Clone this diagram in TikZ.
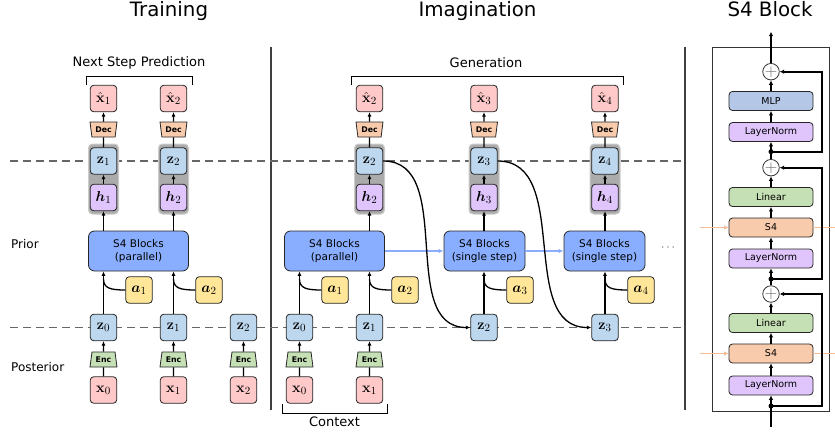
\documentclass[tikz,border=0pt]{standalone}
\usepackage[no-math]{fontspec}
\setmainfont{DejaVu Sans}
\usepackage{amsmath,bm}
\usetikzlibrary{shapes.geometric,arrows.meta}
\definecolor{xpink}{HTML}{FFC9C9}
\definecolor{zblue}{HTML}{BDD7EE}
\definecolor{hpurp}{HTML}{DFC5FB}
\definecolor{ayel}{HTML}{FFE699}
\definecolor{sblue}{HTML}{8AAEFF}
\definecolor{decor}{HTML}{F8CBAD}
\definecolor{encgr}{HTML}{C5E0B4}
\definecolor{mlpc}{HTML}{B4C7E7}
\definecolor{orngl}{HTML}{F5BC96}
\definecolor{bgray}{HTML}{ABABAB}
\tikzset{
  box/.style={draw=black!85, rounded corners=3.5pt, minimum width=26.5pt, minimum height=26.5pt, inner sep=0pt, line width=0.8pt, font=\fontsize{15.5}{17}\selectfont},
  xb/.style={box, fill=xpink},
  zb/.style={box, fill=zblue},
  hb/.style={box, fill=hpurp},
  ab/.style={box, fill=ayel},
  s4b/.style={draw=black!85, rounded corners=6pt, fill=sblue, minimum height=40pt, line width=0.8pt, align=center, inner sep=0pt, font=\fontsize{10.5}{12.5}\selectfont},
  decbox/.style={trapezium, trapezium stretches=true, shape border rotate=180, trapezium left angle=77, trapezium right angle=77, draw=black!85, line width=0.8pt, fill=decor, minimum width=27pt, minimum height=15pt, inner sep=0pt, font=\fontsize{7.8}{8}\selectfont\bfseries},
  encbox/.style={decbox, shape border rotate=0, fill=encgr},
  grayb/.style={fill=bgray, draw=black!20, rounded corners=4pt, line width=1pt, minimum width=30pt, minimum height=70pt, inner sep=0pt},
  conn/.style={line width=1.3pt, -{Latex[length=4.5pt,width=4pt]}},
  plainln/.style={line width=1.3pt},
  dashln/.style={black!60, line width=1.3pt, dash pattern=on 8pt off 5pt},
  sepln/.style={black!75, line width=1.2pt},
  bluearr/.style={sblue, line width=1.3pt, -{Latex[length=5pt,width=4.5pt]}},
  lbl/.style={font=\fontsize{13}{15}\selectfont, inner sep=0pt},
  ttl/.style={font=\fontsize{19.8}{22}\selectfont, inner sep=0pt, anchor=base},
  sb/.style={draw=black!85, rounded corners=3.5pt, minimum width=84pt, minimum height=19pt, inner sep=0pt, line width=0.8pt, font=\fontsize{9.5}{11}\selectfont},
  plusn/.style={circle, draw=black!80, fill=white, line width=0.8pt, minimum size=15pt, inner sep=0pt, text=black!60, font=\fontsize{17}{17}\selectfont},
  jdot/.style={circle, fill=black, inner sep=0pt, minimum size=5pt},
  bconn/.style={line width=1.8pt, -{Latex[length=4.5pt,width=4.5pt]}},
  borng/.style={orngl, line width=1.6pt},
}
\begin{document}
\begin{tikzpicture}[x=1pt,y=-1pt]
\useasboundingbox (0,0) rectangle (835,434);

% titles
\node[ttl] (ttrain) at (169,16) {Training};
\node[ttl] (timag) at (477.5,16) {Imagination};
\node[ttl] (ts4blk) at (770,16) {S4 Block};

% separators and dashed lines
\draw[sepln] (271,47) -- (271,410);
\draw[sepln] (685,47) -- (685,410);
\draw[dashln] (10,161) -- (685,161);
\draw[dashln] (10,327.7) -- (685,327.7);

% row labels
\node[lbl, anchor=west, font=\fontsize{12}{14}\selectfont] (prior) at (11,244) {Prior};
\node[lbl, anchor=west, font=\fontsize{12}{14}\selectfont] (post) at (11,367.5) {Posterior};

% brackets
\node[lbl] (nsp) at (139,63) {Next Step Prediction};
\draw[line width=0.9pt] (86,85) -- (86,76) -- (192,76) -- (192,85);
\node[lbl] (gen) at (486,63) {Generation};
\draw[line width=0.9pt] (351,85) -- (351,76) -- (623,76) -- (623,85);
\node[lbl] (ctx) at (334.5,422) {Context};
\draw[line width=0.9pt] (282,404) -- (282,413) -- (387,413) -- (387,404);

% gray backgrounds
\node[grayb] (g1) at (103.5,179) {};
\node[grayb] (g2) at (173.5,179) {};
\node[grayb] (g3) at (369.5,179) {};
\node[grayb] (g4) at (484,179) {};
\node[grayb] (g5) at (605,179) {};

% ---------- Training ----------
\node[xb] (tx1h) at (103.5,98.5) {$\hat{\mathbf{x}}_1$};
\node[xb] (tx2h) at (173.5,98.5) {$\hat{\mathbf{x}}_2$};
\node[decbox] (tdec1) at (103.5,129.5) {Dec};
\node[decbox] (tdec2) at (173.5,129.5) {Dec};
\node[zb] (tz1) at (103.5,161) {$\mathbf{z}_1$};
\node[zb] (tz2) at (173.5,161) {$\mathbf{z}_2$};
\node[hb] (th1) at (103.5,197.5) {$\bm{h}_1$};
\node[hb] (th2) at (173.5,197.5) {$\bm{h}_2$};
\node[s4b, minimum width=100pt] (ts4) at (138.5,251) {S4 Blocks\\(parallel)};
\node[ab] (ta1) at (139,290) {$\bm{a}_1$};
\node[ab] (ta2) at (209,290) {$\bm{a}_2$};
\node[zb] (tz0b) at (103.5,327.5) {$\mathbf{z}_0$};
\node[zb] (tz1b) at (173.5,327.5) {$\mathbf{z}_1$};
\node[zb] (tz2b) at (243.5,327.5) {$\mathbf{z}_2$};
\node[encbox] (tenc0) at (103.5,359.5) {Enc};
\node[encbox] (tenc1) at (173.5,359.5) {Enc};
\node[encbox] (tenc2) at (243.5,359.5) {Enc};
\node[xb] (tx0) at (103.5,390) {$\mathbf{x}_0$};
\node[xb] (tx1) at (173.5,390) {$\mathbf{x}_1$};
\node[xb] (tx2) at (243.5,390) {$\mathbf{x}_2$};

\foreach \n in {1,2}{
  \draw[plainln] (tz\n.north) -- (tdec\n.south);
  \draw[conn] (tdec\n.north) -- (tx\n h.south);
  \draw[conn] (th\n.north) -- (tz\n.south);
  \draw[conn] (ts4.north -| th\n) -- (th\n.south);
}
\draw[conn] (tz0b.north) -- (tz0b |- ts4.south);
\draw[conn] (tz1b.north) -- (tz1b |- ts4.south);
\coordinate (tj1) at (103.5,279);
\coordinate (tj2) at (173.5,279);
\draw[plainln] (ta1.west) .. controls (110,290) and (103.5,288) .. (tj1);
\draw[plainln] (ta2.west) .. controls (180,290) and (173.5,288) .. (tj2);
\foreach \n in {0,1,2}{
  \draw[plainln] (tx\n.north) -- (tenc\n.south);
  \draw[conn] (tenc\n.north) -- (tz\n b.south);
}

% ---------- Imagination ----------
\node[xb] (ix2h) at (369.5,98.5) {$\hat{\mathbf{x}}_2$};
\node[xb] (ix3h) at (484,98.5) {$\hat{\mathbf{x}}_3$};
\node[xb] (ix4h) at (605,98.5) {$\hat{\mathbf{x}}_4$};
\node[decbox] (idec2) at (369.5,129.5) {Dec};
\node[decbox] (idec3) at (484,129.5) {Dec};
\node[decbox] (idec4) at (605,129.5) {Dec};
\node[zb] (iz2) at (369.5,161) {$\mathbf{z}_2$};
\node[zb] (iz3) at (484,161) {$\mathbf{z}_3$};
\node[zb] (iz4) at (605,161) {$\mathbf{z}_4$};
\node[hb] (ih2) at (369.5,197.5) {$\bm{h}_2$};
\node[hb] (ih3) at (484,197.5) {$\bm{h}_3$};
\node[hb] (ih4) at (605,197.5) {$\bm{h}_4$};
\node[s4b, minimum width=100pt] (ip) at (334.5,251) {S4 Blocks\\(parallel)};
\node[s4b, minimum width=81pt] (is1) at (484.5,251) {S4 Blocks\\(single step)};
\node[s4b, minimum width=81pt] (is2) at (604.5,251) {S4 Blocks\\(single step)};
\node[font=\fontsize{12}{14}\selectfont, text=black!70] (idots) at (669,248) {$\cdots$};
\node[ab] (ia1) at (335,290) {$\bm{a}_1$};
\node[ab] (ia2) at (405,290) {$\bm{a}_2$};
\node[ab] (ia3) at (520,290) {$\bm{a}_3$};
\node[ab] (ia4) at (641,290) {$\bm{a}_4$};
\node[zb] (iz0b) at (299.5,327.5) {$\mathbf{z}_0$};
\node[zb] (iz1b) at (369.5,327.5) {$\mathbf{z}_1$};
\node[zb] (iz2b) at (484,327.5) {$\mathbf{z}_2$};
\node[zb] (iz3b) at (605,327.5) {$\mathbf{z}_3$};
\node[encbox] (ienc0) at (299.5,359.5) {Enc};
\node[encbox] (ienc1) at (369.5,359.5) {Enc};
\node[xb] (ix0) at (299.5,390) {$\mathbf{x}_0$};
\node[xb] (ix1) at (369.5,390) {$\mathbf{x}_1$};

\foreach \n in {2,3,4}{
  \draw[plainln] (iz\n.north) -- (idec\n.south);
  \draw[conn] (idec\n.north) -- (ix\n h.south);
  \draw[conn] (ih\n.north) -- (iz\n.south);
}
\draw[conn] (ip.north -| ih2) -- (ih2.south);
\draw[conn] (is1.north -| ih3) -- (ih3.south);
\draw[conn] (is2.north -| ih4) -- (ih4.south);
\draw[conn] (iz0b.north) -- (iz0b |- ip.south);
\draw[conn] (iz1b.north) -- (iz1b |- ip.south);
\draw[conn] (iz2b.north) -- (iz2b |- is1.south);
\draw[conn] (iz3b.north) -- (iz3b |- is2.south);
\coordinate (ij1) at (299.5,279);
\coordinate (ij2) at (369.5,279);
\coordinate (ij3) at (484,279);
\coordinate (ij4) at (605,279);
\draw[plainln] (ia1.west) .. controls (306,290) and (299.5,288) .. (ij1);
\draw[plainln] (ia2.west) .. controls (376,290) and (369.5,288) .. (ij2);
\draw[plainln] (ia3.west) .. controls (490.5,290) and (484,288) .. (ij3);
\draw[plainln] (ia4.west) .. controls (611.5,290) and (605,288) .. (ij4);
\foreach \n in {0,1}{
  \draw[plainln] (ix\n.north) -- (ienc\n.south);
  \draw[conn] (ienc\n.north) -- (iz\n b.south);
}
\draw[bluearr] (ip.east) -- (is1.west);
\draw[bluearr] (is1.east) -- (is2.west);
\draw[conn] (iz2.east) to[out=0,in=180] (iz2b.west);
\draw[conn] (iz3.east) to[out=0,in=180] (iz3b.west);

% ---------- S4 Block ----------
\node[draw=black!80, line width=0.9pt, minimum width=117pt, minimum height=364pt, inner sep=0pt] (frame) at (770.5,229) {};
\coordinate (oa1) at (700,227.5);
\coordinate (oa2) at (835,227.5);
\coordinate (ob1) at (700,353.5);
\coordinate (ob2) at (835,353.5);
\node[sb, fill=mlpc] (mlp) at (771,101) {MLP};
\node[sb, fill=hpurp] (ln1) at (771,132) {LayerNorm};
\node[sb, fill=encgr] (lin1) at (771,197) {Linear};
\node[sb, fill=decor] (s4a) at (771,227.5) {S4};
\node[sb, fill=hpurp] (ln2) at (771,258.5) {LayerNorm};
\node[sb, fill=encgr] (lin2) at (771,323) {Linear};
\node[sb, fill=decor] (s4b) at (771,353.5) {S4};
\node[sb, fill=hpurp] (ln3) at (771,385.5) {LayerNorm};
\draw[borng, -{Latex[length=4.5pt,width=4.5pt]}] (oa1) -- (s4a.west);
\draw[borng] (s4a.east) -- (oa2);
\draw[borng, -{Latex[length=4.5pt,width=4.5pt]}] (ob1) -- (s4b.west);
\draw[borng] (s4b.east) -- (ob2);
\node[plusn] (p1) at (771,71.7) {$+$};
\node[plusn] (p2) at (771,167.7) {$+$};
\node[plusn] (p3) at (771,294) {$+$};
\node[jdot] (d1) at (771,151.7) {};
\node[jdot] (d2) at (771,279) {};
\node[jdot] (d3) at (771,406) {};
\coordinate (btop) at (771,31.7);
\coordinate (bbot) at (771,427);
\draw[bconn] (bbot) -- (ln3.south);
\draw[bconn] (ln3.north) -- (s4b.south);
\draw[bconn] (s4b.north) -- (lin2.south);
\draw[bconn] (lin2.north) -- (p3.south);
\draw[bconn] (p3.north) -- (ln2.south);
\draw[bconn] (ln2.north) -- (s4a.south);
\draw[bconn] (s4a.north) -- (lin1.south);
\draw[bconn] (lin1.north) -- (p2.south);
\draw[bconn] (p2.north) -- (ln1.south);
\draw[bconn] (ln1.north) -- (mlp.south);
\draw[bconn] (mlp.north) -- (p1.south);
\draw[bconn] (p1.north) -- (btop);
\draw[bconn] (d3.center) -- ++(50.7,0) |- (p3.east);
\draw[bconn] (d2.center) -- ++(50.7,0) |- (p2.east);
\draw[bconn] (d1.center) -- ++(50.7,0) |- (p1.east);
\end{tikzpicture}
\end{document}
